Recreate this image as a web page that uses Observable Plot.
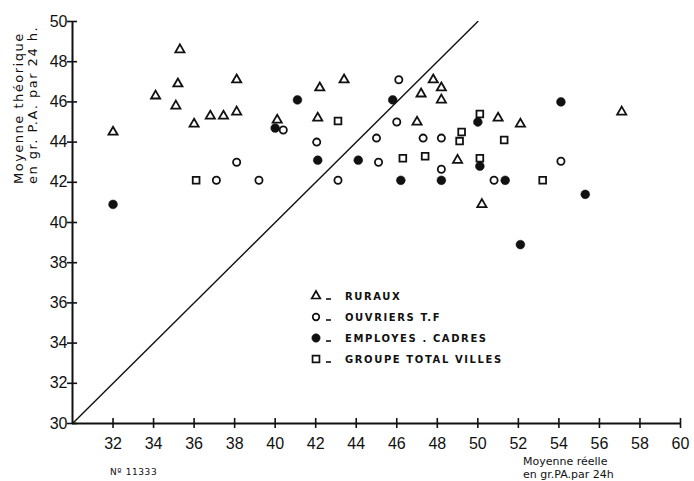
<!DOCTYPE html>
<html>
<head>
<meta charset="utf-8">
<script src="https://cdn.jsdelivr.net/npm/d3@7"></script>
<script src="https://cdn.jsdelivr.net/npm/@observablehq/plot@0.6"></script>
<style>
  html, body { margin: 0; padding: 0; background: #fff; }
  #chart { position: relative; width: 694px; height: 481px; }
  svg { display: block; }
</style>
</head>
<body>
<div id="chart"></div>
<script>
// ---- data ----
const ruraux = [
  [32, 44.5], [34.1, 46.3], [35.3, 48.6], [35.2, 46.9], [35.1, 45.8], [36, 44.9],
  [36.8, 45.3], [37.45, 45.3], [38.1, 47.1], [38.1, 45.5], [40.1, 45.1], [42.2, 46.7],
  [43.4, 47.1], [47.8, 47.1], [48.2, 46.7], [47.2, 46.4], [48.2, 46.1], [57.1, 45.5],
  [42.1, 45.2], [47, 45], [51, 45.2], [52.1, 44.9], [49, 43.1], [50.2, 40.9]
];
const ouvriers = [
  [40.4, 44.6], [38.1, 43], [37.1, 42.1], [39.2, 42.1], [46.1, 47.1], [46, 45],
  [42.05, 44], [45, 44.2], [47.3, 44.2], [48.2, 44.2], [45.1, 43], [54.1, 43.05],
  [48.2, 42.65], [43.1, 42.1], [50.8, 42.1]
];
const employes = [
  [32, 40.9], [40, 44.7], [41.1, 46.1], [45.8, 46.1], [54.1, 46], [50, 45],
  [42.1, 43.1], [44.1, 43.1], [50.1, 42.8], [46.2, 42.1], [48.2, 42.1], [51.35, 42.1],
  [55.3, 41.4], [52.1, 38.9]
];
const groupe = [
  [36.1, 42.1], [43.1, 45.05], [50.1, 45.4], [49.2, 44.5], [49.1, 44.05], [51.3, 44.1],
  [46.3, 43.2], [47.4, 43.3], [50.1, 43.2], [53.2, 42.1]
];
const xTicks = [32, 34, 36, 38, 40, 42, 44, 46, 48, 50, 52, 54, 56, 58, 60];
const yTicks = [30, 32, 34, 36, 38, 40, 42, 44, 46, 48, 50];
const diag = [30, 50];
const legendLabels = ["RURAUX", "OUVRIERS T.F", "EMPLOYES . CADRES", "GROUPE TOTAL VILLES"];
const yTitle = ["Moyenne théorique", "en gr. P.A. par 24 h."];
const xTitle = ["Moyenne réelle", "en gr.PA.par 24h"];
const refNote = "Nº 11333";

const FONT = "'Liberation Sans', 'DejaVu Sans', sans-serif";

const plot = Plot.plot({
  width: 694,
  height: 481,
  marginLeft: 72,
  marginRight: 14,
  marginTop: 21,
  marginBottom: 58,
  style: { fontFamily: FONT, fontSize: "16px", color: "#111", background: "#fff" },
  x: { domain: [30, 60] },
  y: { domain: [30, 50] },
  marks: [
    Plot.line(diag, { x: d => d, y: d => d, stroke: "#111", strokeWidth: 1.4 }),
    Plot.ruleY([30], { stroke: "#111", strokeWidth: 2 }),
    Plot.ruleX([30], { stroke: "#111", strokeWidth: 2 }),
    Plot.ruleX(xTicks, { x: d => d, y1: 29.75, y2: 30.25, stroke: "#111", strokeWidth: 1.6 }),
    Plot.ruleY(yTicks, { y: d => d, x1: 29.75, x2: 30.25, stroke: "#111", strokeWidth: 1.6 }),
    Plot.axisX(xTicks, { tickSize: 0, tickPadding: 14, label: null, fontSize: 16 }),
    Plot.axisY(yTicks, { tickSize: 0, tickPadding: 5, label: null, fontSize: 16 }),
    Plot.dot(ruraux, { x: "0", y: "1", symbol: "triangle", r: 3.4, stroke: "#111", strokeWidth: 1.8, fill: "#fff" }),
    Plot.dot(ouvriers, { x: "0", y: "1", symbol: "circle", r: 3.6, stroke: "#111", strokeWidth: 1.8, fill: "#fff" }),
    Plot.dot(groupe, { x: "0", y: "1", symbol: "square", r: 3.8, stroke: "#111", strokeWidth: 1.8, fill: "#fff" }),
    Plot.dot(employes, { x: "0", y: "1", symbol: "circle", r: 4.4, stroke: "#111", strokeWidth: 0.5, fill: "#111" })
  ]
});

document.getElementById("chart").appendChild(plot);

const svg = d3.select(plot);

// legend
const legendSymbols = [
  { sym: d3.symbolTriangle, size: 32, fill: "#fff", sw: 1.7 },
  { sym: d3.symbolCircle, size: 34, fill: "#fff", sw: 1.7 },
  { sym: d3.symbolCircle, size: 55, fill: "#111", sw: 0.5 },
  { sym: d3.symbolSquare, size: 48, fill: "#fff", sw: 1.7 }
];
const lg = svg.append("g").attr("transform", "translate(316,296)");
legendLabels.forEach((lab, i) => {
  const row = lg.append("g").attr("transform", `translate(0,${i * 21})`);
  row.append("path")
    .attr("d", d3.symbol(legendSymbols[i].sym, legendSymbols[i].size)())
    .attr("fill", legendSymbols[i].fill)
    .attr("stroke", "#111")
    .attr("stroke-width", legendSymbols[i].sw);
  row.append("line").attr("x1", 10).attr("x2", 15).attr("y1", 3).attr("y2", 3)
    .attr("stroke", "#111").attr("stroke-width", 1.6);
  row.append("text").attr("x", 29).attr("y", 0).attr("dy", "0.35em")
    .attr("text-anchor", "start")
    .attr("font-family", "'DejaVu Sans', sans-serif").attr("font-weight", "bold")
    .attr("font-size", 10).attr("letter-spacing", 1.6).attr("fill", "#111")
    .text(lab);
});

// y-axis title (rotated)
yTitle.forEach((t, i) => {
  svg.append("text")
    .attr("transform", `translate(${23 + i * 14},184) rotate(-90)`)
    .attr("font-family", "'DejaVu Sans', sans-serif").attr("font-size", 13)
    .attr("letter-spacing", 1.5).attr("fill", "#111")
    .attr("text-anchor", "start")
    .text(t);
});

// x-axis title
xTitle.forEach((t, i) => {
  svg.append("text")
    .attr("x", 523).attr("y", 465 + i * 13)
    .attr("text-anchor", "start")
    .attr("font-family", "'DejaVu Sans', sans-serif").attr("font-size", 11)
    .attr("fill", "#111")
    .text(t);
});

svg.append("text")
  .attr("x", 110).attr("y", 475)
  .attr("text-anchor", "start")
  .attr("font-family", "'DejaVu Sans', sans-serif").attr("font-size", 9)
  .attr("letter-spacing", 0.6).attr("fill", "#111")
  .text(refNote);
</script>
</body>
</html>
